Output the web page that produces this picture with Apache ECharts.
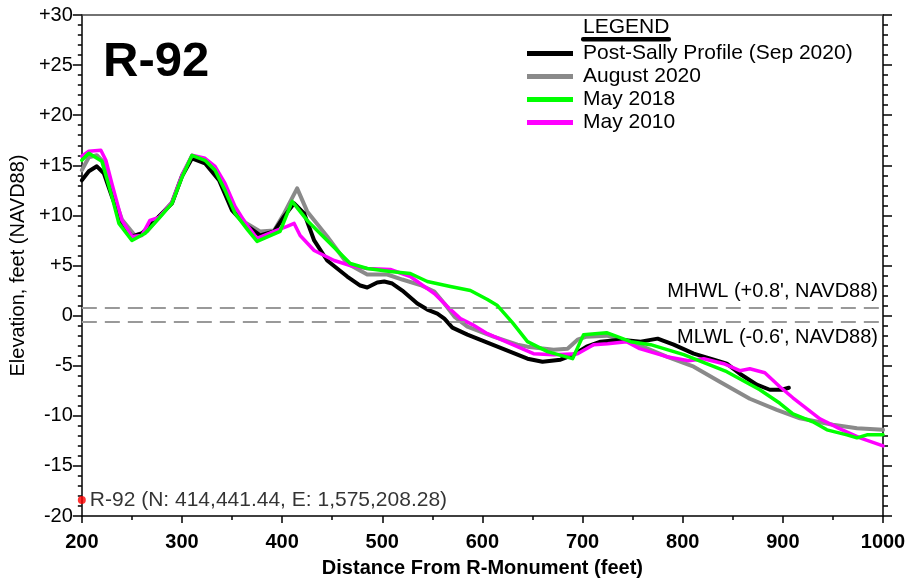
<!DOCTYPE html>
<html>
<head>
<meta charset="utf-8">
<script src="https://cdn.jsdelivr.net/npm/echarts@6/dist/echarts.min.js"></script>
<style>
html,body{margin:0;padding:0;background:#fff;}
#chart{width:909px;height:583px;}
</style>
</head>
<body>
<div id="chart"></div>
<script>
// ---- data (distance ft, elevation ft NAVD88) ----
var seriesNames = ['Post-Sally Profile (Sep 2020)', 'August 2020', 'May 2018', 'May 2010'];
var postSally = [[200,13.5],[207,14.4],[215,14.9],[222,14.2],[230,11.9],[240,9.2],[250,7.9],[260,8.2],[277,9.9],[290,11.2],[300,13.9],[310,15.7],[323,15.2],[337,13.5],[350,10.5],[363,9.1],[378,8.0],[392,8.4],[402,9.9],[412,11.2],[422,10.2],[432,7.5],[445,5.5],[465,3.9],[478,3.0],[485,2.8],[495,3.3],[502,3.4],[510,3.2],[520,2.5],[535,1.2],[545,0.6],[555,0.2],[562,-0.3],[570,-1.2],[585,-1.9],[605,-2.7],[625,-3.5],[645,-4.3],[660,-4.6],[678,-4.4],[691,-3.9],[704,-3.1],[718,-2.6],[738,-2.4],[758,-2.6],[775,-2.3],[791,-2.9],[811,-3.8],[831,-4.4],[844,-4.8],[857,-5.8],[874,-6.9],[887,-7.4],[899,-7.4],[906,-7.2]];
var august2020 = [[200,14.5],[207,15.8],[215,16.0],[222,15.3],[230,12.5],[240,9.6],[253,8.0],[265,8.4],[277,9.8],[290,11.3],[300,14.0],[310,15.9],[323,15.4],[337,13.8],[350,10.8],[363,9.3],[378,8.4],[392,8.5],[402,10.2],[415,12.7],[425,10.4],[445,7.9],[465,5.2],[485,4.1],[505,4.1],[520,3.6],[538,3.05],[552,2.4],[562,1.2],[572,-0.1],[585,-1.1],[611,-2.1],[635,-2.9],[645,-3.1],[671,-3.4],[685,-3.3],[695,-2.4],[704,-2.1],[724,-2.0],[748,-2.6],[784,-4.1],[811,-5.1],[837,-6.6],[867,-8.3],[894,-9.4],[917,-10.25],[950,-10.9],[974,-11.25],[1000,-11.4]];
var may2018 = [[200,15.5],[207,16.2],[220,15.4],[230,11.9],[237,9.2],[250,7.5],[263,8.2],[277,9.7],[290,11.2],[300,13.8],[310,16.0],[323,15.5],[333,14.5],[343,12.5],[353,10.2],[366,8.5],[375,7.4],[398,8.4],[410,11.4],[425,9.5],[445,7.5],[468,5.2],[485,4.7],[508,4.4],[528,4.2],[545,3.4],[568,2.9],[588,2.5],[605,1.6],[615,1.0],[630,-0.7],[645,-2.6],[665,-3.6],[690,-4.3],[701,-1.9],[724,-1.7],[748,-2.6],[768,-2.9],[801,-3.9],[844,-5.6],[877,-7.4],[897,-8.75],[910,-9.8],[930,-10.6],[944,-11.4],[964,-11.9],[974,-12.2],[984,-11.9],[1000,-11.9]];
var may2010 = [[200,15.9],[207,16.4],[219,16.5],[224,15.5],[230,13.2],[240,9.5],[250,7.9],[260,8.0],[268,9.5],[277,9.8],[290,11.3],[300,14.0],[310,16.0],[323,15.7],[333,14.9],[343,13.2],[353,10.9],[363,9.3],[375,7.7],[392,8.4],[405,8.9],[412,9.2],[418,8.0],[432,6.5],[452,5.5],[468,5.0],[485,4.7],[508,4.6],[528,3.9],[552,2.2],[565,0.9],[578,-0.3],[590,-0.9],[605,-1.8],[628,-2.8],[651,-3.8],[671,-3.9],[695,-3.8],[711,-2.9],[725,-2.8],[744,-2.6],[757,-3.3],[784,-4.1],[806,-4.5],[821,-4.3],[841,-4.8],[857,-5.5],[867,-5.3],[882,-5.7],[897,-7.1],[910,-8.2],[937,-10.3],[957,-11.3],[977,-12.2],[1000,-13.0]];
var waterLevels = [{name: "MHWL (+0.8', NAVD88)", value: 0.8}, {name: "MLWL (-0.6', NAVD88)", value: -0.6}];
var monument = [[200, -18.4]];
var monumentLabel = 'R-92 (N: 414,441.44, E: 1,575,208.28)';
var xRange = [200, 1000];
var yRange = [-20, 30];

var FONT = '"Liberation Sans", Arial, sans-serif';
var chart = echarts.init(document.getElementById('chart'), null, {renderer: 'canvas'});

function lineSeries(name, data, color, width, z) {
  return {
    name: name, type: 'line', data: data, symbol: 'none', smooth: false,
    xAxisIndex: 0, yAxisIndex: 0, z: z,
    lineStyle: {color: color, width: width, cap: 'round', join: 'round'},
    itemStyle: {color: color},
    emphasis: {disabled: true},
    animation: false
  };
}

var series = [
  lineSeries(seriesNames[1], august2020, '#8a8a8a', 4, 2),
  lineSeries(seriesNames[0], postSally, '#000000', 4, 3),
  lineSeries(seriesNames[3], may2010, '#ff00ff', 3.5, 4),
  lineSeries(seriesNames[2], may2018, '#00ff00', 3.5, 5)
];
series[0].markLine = {
  silent: true, symbol: ['none', 'none'], animation: false,
  lineStyle: {color: '#999999', width: 2, type: [15, 8]},
  data: [
    {yAxis: waterLevels[0].value, label: {show: true, position: 'insideEndTop', formatter: waterLevels[0].name, color: '#000', fontSize: 20, fontFamily: FONT, distance: [5, 6]}},
    {yAxis: waterLevels[1].value, label: {show: true, position: 'insideEndBottom', formatter: waterLevels[1].name, color: '#000', fontSize: 20, fontFamily: FONT, distance: [5, 6]}}
  ]
};
series.push({
  type: 'scatter', data: monument, symbolSize: 8, clip: false, z: 10,
  itemStyle: {color: '#ff0000'},
  label: {show: true, position: 'right', formatter: monumentLabel, color: '#000', fontSize: 21, fontFamily: FONT, distance: 4},
  animation: false
});

var option = {
  backgroundColor: '#fff',
  animation: false,
  grid: {left: 81, right: 26, top: 15, bottom: 67, containLabel: false},
  xAxis: [{
    type: 'value', min: xRange[0], max: xRange[1], interval: 100, position: 'bottom',
    name: 'Distance From R-Monument (feet)', nameLocation: 'middle', nameGap: 42,
    nameTextStyle: {fontFamily: FONT, fontSize: 20, fontWeight: 'bold', color: '#000'},
    axisLine: {show: true, onZero: false, lineStyle: {color: '#000', width: 1.5}},
    axisTick: {show: true, length: 7, lineStyle: {color: '#000', width: 1.5}},
    minorTick: {show: true, splitNumber: 2, length: 4, lineStyle: {color: '#000', width: 1.5}},
    axisLabel: {fontFamily: FONT, fontSize: 20, fontWeight: 'bold', color: '#000', margin: 16,
      formatter: function (v) { return String(v); }},
    splitLine: {show: false}
  }, {
    type: 'value', min: xRange[0], max: xRange[1], interval: 100, position: 'top',
    axisLine: {show: true, onZero: false, lineStyle: {color: '#444', width: 1.5}},
    axisTick: {show: false}, axisLabel: {show: false}, splitLine: {show: false}
  }],
  yAxis: [{
    type: 'value', min: yRange[0], max: yRange[1], interval: 5, position: 'left',
    name: 'Elevation, feet (NAVD88)', nameLocation: 'middle', nameGap: 39,
    nameTextStyle: {fontFamily: FONT, fontSize: 20, color: '#000'},
    axisLine: {show: true, onZero: false, lineStyle: {color: '#000', width: 1.5}},
    axisTick: {show: true, length: 9, lineStyle: {color: '#000', width: 1.5}},
    minorTick: {show: true, splitNumber: 5, length: 4, lineStyle: {color: '#000', width: 1.5}},
    axisLabel: {fontFamily: FONT, fontSize: 20, color: '#000', margin: 9,
      formatter: function (v) { return v > 0 ? '+' + v : String(v); }},
    splitLine: {show: false}
  }, {
    type: 'value', min: yRange[0], max: yRange[1], interval: 5, position: 'right',
    axisLine: {show: true, onZero: false, lineStyle: {color: '#000', width: 1.5}},
    axisTick: {show: true, length: 9, lineStyle: {color: '#000', width: 1.5}},
    minorTick: {show: true, splitNumber: 5, length: 5, lineStyle: {color: '#000', width: 1.5}},
    axisLabel: {show: false}, splitLine: {show: false}
  }],
  legend: {
    orient: 'vertical', left: 527, top: 42, padding: 0, itemGap: 0,
    itemWidth: 46, itemHeight: 5, icon: 'rect',
    data: [
      {name: seriesNames[0], itemStyle: {color: '#000'}},
      {name: seriesNames[1], itemStyle: {color: '#8a8a8a'}},
      {name: seriesNames[2], itemStyle: {color: '#00ff00'}},
      {name: seriesNames[3], itemStyle: {color: '#ff00ff'}}
    ],
    textStyle: {fontFamily: FONT, fontSize: 21, color: '#000', lineHeight: 23, padding: [0, 0, 0, 5]},
    selectedMode: false
  },
  graphic: [
    {type: 'text', left: 103, top: 38, style: {text: 'R-92', font: 'bold 49px ' + FONT, fill: '#000'}},
    {type: 'text', left: 583, top: 17, style: {text: 'LEGEND', font: '21px ' + FONT, fill: '#000'}},
    {type: 'rect', shape: {x: 581, y: 37, width: 90, height: 4.5, r: 2}, style: {fill: '#000'}}
  ],
  series: series
};
chart.setOption(option);
</script>
</body>
</html>
